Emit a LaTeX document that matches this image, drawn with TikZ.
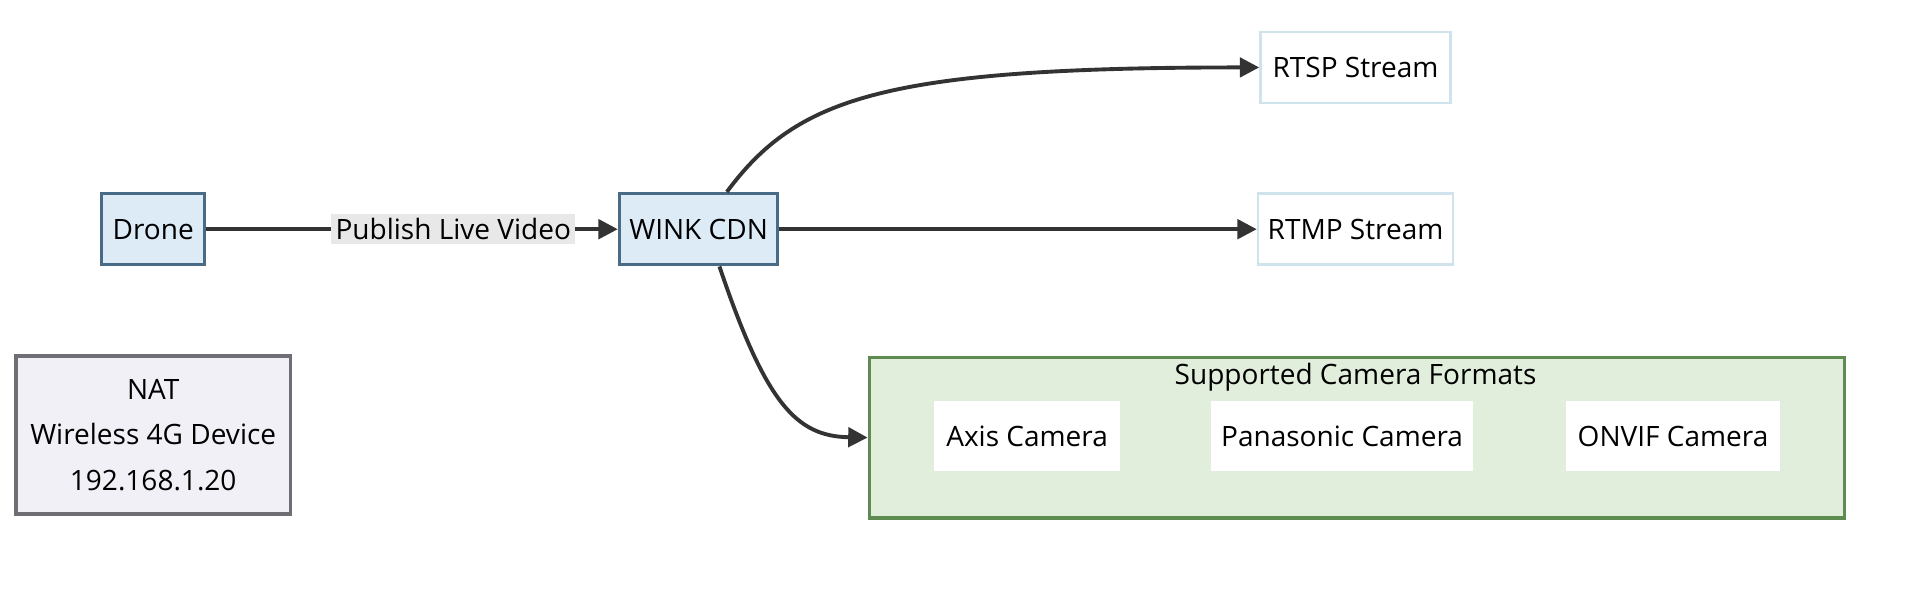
\documentclass[tikz,border=0pt]{standalone}
\usepackage{fontspec}
\setmainfont{Open Sans}
\usepackage{tikz}
\usetikzlibrary{arrows.meta,positioning}
\definecolor{nodefill}{HTML}{DDEBF7}
\definecolor{nodeline}{HTML}{4A6B86}
\definecolor{outline}{HTML}{CFE3EC}
\definecolor{natfill}{HTML}{F0F0F6}
\definecolor{natline}{HTML}{6E6E74}
\definecolor{clfill}{HTML}{E1EEDB}
\definecolor{clline}{HTML}{5E8C50}
\definecolor{lblfill}{HTML}{E8E8E8}
\definecolor{edge}{HTML}{333333}
\tikzset{
 box/.style={draw=nodeline,fill=nodefill,line width=0.8pt,minimum height=0.58cm,inner sep=0pt,font=\fontsize{6.5}{8}\selectfont},
 outbox/.style={draw=outline,fill=white,line width=0.6pt,minimum height=0.58cm,inner sep=0pt,font=\fontsize{6.5}{8}\selectfont},
 cam/.style={fill=white,minimum height=0.57cm,inner sep=0pt,font=\fontsize{6.5}{8}\selectfont},
 flow/.style={draw=edge,line width=0.9pt,-{Triangle[length=4.5pt,width=4.5pt]}}
}
\begin{document}
\begin{tikzpicture}[x=0.01cm,y=-0.01cm]
 \useasboundingbox (0,0) rectangle (1560,481);
 \node[box,minimum width=0.84cm] (drone) at (125,187) {Drone};
 \node[box,minimum width=1.29cm] (wink) at (570,187) {WINK CDN};
 \node[outbox,minimum width=1.55cm] (rtsp) at (1106,55) {RTSP Stream};
 \node[outbox,minimum width=1.59cm] (rtmp) at (1106,187) {RTMP Stream};
 \node[draw=natline,fill=natfill,line width=0.8pt,minimum width=2.24cm,minimum height=1.29cm,align=center,
  font=\fontsize{6.5}{10.5}\selectfont] (nat) at (125,355) {NAT\\Wireless 4G Device\\192.168.1.20};
 % camera formats group
 \node[draw=clline,fill=clfill,line width=0.8pt,minimum width=7.95cm,minimum height=1.31cm,inner sep=0pt] (formats) at (1107,357) {};
 \node[font=\fontsize{6.5}{8}\selectfont] (title) at (1106,308) {Supported Camera Formats};
 \node[cam,minimum width=1.52cm] (axis) at (838,356) {Axis Camera};
 \node[cam,minimum width=2.13cm] (pana) at (1095,356) {Panasonic Camera};
 \node[cam,minimum width=1.74cm] (onvif) at (1365,356) {ONVIF Camera};

 \draw[flow] (drone) -- node[pos=0.6,fill=lblfill,inner sep=1pt,font=\fontsize{6.5}{8}\selectfont] {Publish Live Video} (wink);
 \draw[flow] (wink) -- (rtmp);
 \draw[flow] (wink.north)+(23,0) .. controls (650,80) and (720,55) .. (rtsp.west);
 \draw[flow] (wink.south)+(17,0) .. controls (625,330) and (650,356) .. (formats.west);
\end{tikzpicture}
\end{document}
